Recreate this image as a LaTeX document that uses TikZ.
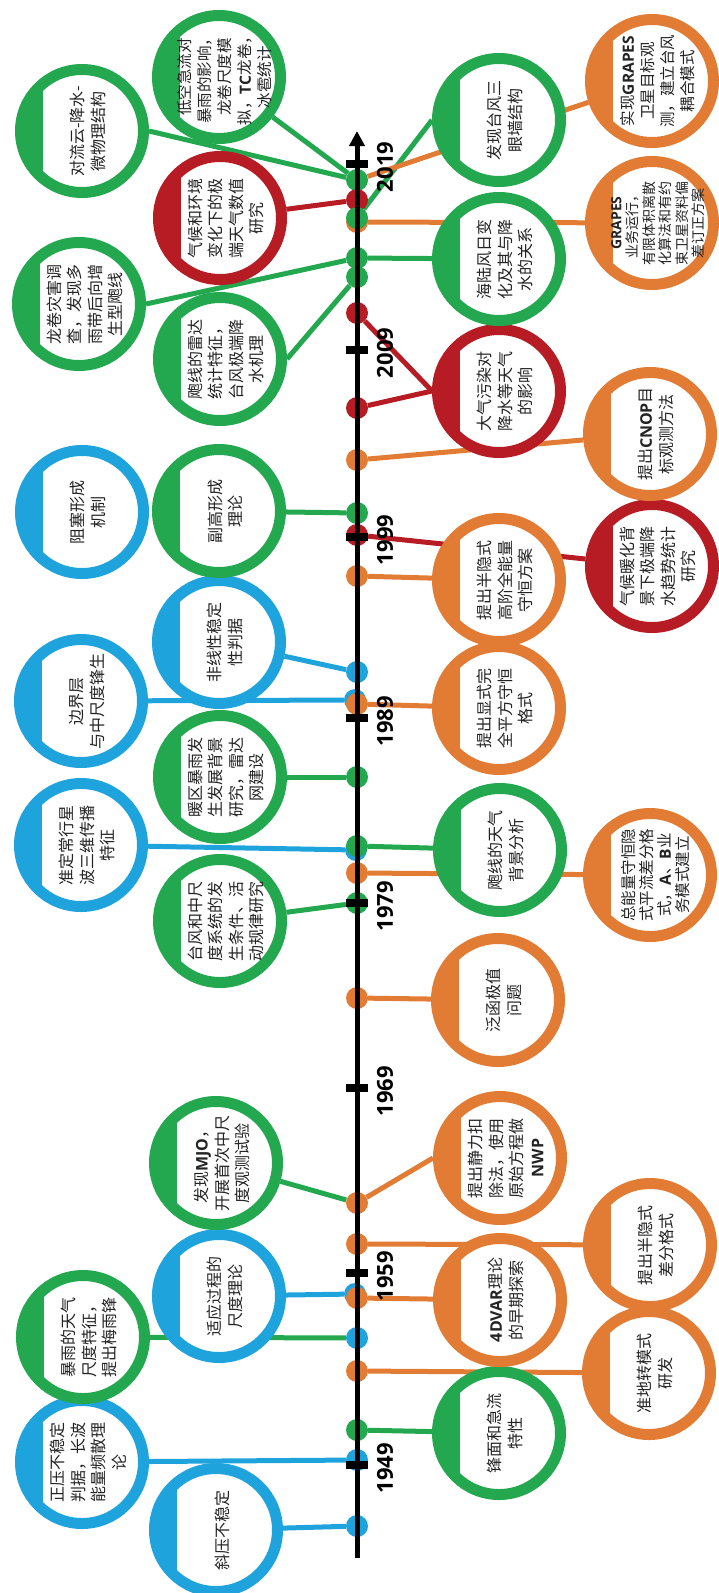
\documentclass[tikz,border=0pt]{standalone}
\usepackage{fontspec}
\setmainfont{Noto Sans CJK SC}
\newfontfamily\latb{Open Sans}
\usetikzlibrary{arrows.meta}
\definecolor{cb}{RGB}{31,163,221}
\definecolor{cg}{RGB}{35,168,80}
\definecolor{co}{RGB}{226,123,51}
\definecolor{cr}{RGB}{183,28,37}
\definecolor{ct}{RGB}{35,35,35}
\pgfdeclarelayer{bg}
\pgfsetlayers{bg,main}
\newcommand\LatB[1]{{\latb\bfseries #1}}
\tikzset{
 bubble/.style={circle, draw=#1, fill=white, line width=11pt, minimum size=123pt, inner sep=0pt,
   path picture={\fill[#1] (path picture bounding box.south west) rectangle ([xshift=22.5pt]path picture bounding box.north west);}},
 btext/.style={rotate=90, align=center, inner sep=0pt, text=ct, font=\fontsize{16pt}{20.5pt}\selectfont},
 tdot/.style={circle, fill=#1, minimum size=22pt, inner sep=0pt},
 conn/.style={draw=#1, line width=5pt},
 tickbar/.style={fill=black, minimum width=22pt, minimum height=8pt, inner sep=0pt},
 yearlab/.style={rotate=90, font=\latb\bfseries\fontsize{22pt}{22pt}\selectfont, inner sep=0pt},
}
\newcommand\Bub[6][]{\node[bubble=#3] (#2) at (#4,#5) {};
  \node[btext,#1] (#2t) at ([xshift=6pt]#2.center) {#6};}
\begin{document}
\begin{tikzpicture}[x=1pt,y=-1pt]
\useasboundingbox (0,0) rectangle (719,1593);
% dots
\node[tdot=cg] (d180) at (357,180) {};
\node[tdot=cr] (d200) at (357,200) {};
\node[tdot=co] (d222) at (357,222) {};
\node[tdot=cg] (d218) at (357,218) {};
\node[tdot=cg] (d258) at (357,258) {};
\node[tdot=cg] (d277) at (357,277) {};
\node[tdot=cr] (d313) at (357,313) {};
\node[tdot=cr] (d408) at (357,408) {};
\node[tdot=co] (d460) at (357,460) {};
\node[tdot=cg] (d513) at (357,513) {};
\node[tdot=cr] (d535) at (357,535) {};
\node[tdot=co] (d576) at (357,576) {};
\node[tdot=cb] (d672) at (357,672) {};
\node[tdot=cb] (d700) at (355,700) {};
\node[tdot=co] (d704) at (357,704) {};
\node[tdot=cg] (d777) at (357,777) {};
\node[tdot=cb] (d850) at (356,850) {};
\node[tdot=cg] (d846) at (357,846) {};
\node[tdot=co] (d873) at (357,873) {};
\node[tdot=cg] (d903) at (357,903) {};
\node[tdot=co] (d998) at (357,998) {};
\node[tdot=co] (d1203) at (357,1203) {};
\node[tdot=co] (d1244) at (357,1244) {};
\node[tdot=cb] (d1294) at (355,1294) {};
\node[tdot=co] (d1298) at (357,1298) {};
\node[tdot=cb] (d1338) at (357,1338) {};
\node[tdot=co] (d1371) at (357,1371) {};
\node[tdot=cg] (d1430) at (357,1430) {};
\node[tdot=cb] (d1460) at (357,1460) {};
\node[tdot=cb] (d1526) at (357,1526) {};
% axis
\coordinate (abot) at (357,1558);
\coordinate (atop) at (357,131);
\draw[line width=5pt, -{Triangle[length=15pt,width=15pt]}] (abot) -- (atop);
% ticks and years
\foreach \yr/\ty in {1949/1465,1959/1273,1969/1088,1979/903,1989/718,1999/537,2009/350,2019/164}{
  \node[tickbar] (k\yr) at (357,\ty) {};
  \node[yearlab] (y\yr) at (385,\ty+3) {\yr};
}
% left bubbles
\Bub{c1}{cb}{216}{1530}{斜压不稳定}
\Bub{c2}{cb}{82}{1462}{正压不稳定\\判据，长波\\能量频散理\\论}
\Bub{c3}{cg}{83}{1337}{暴雨的天气\\尺度特征，\\提出梅雨锋}
\Bub{c4}{cb}{219}{1296}{适应过程的\\尺度理论}
\Bub{c5}{cg}{216}{1163}{发现\LatB{MJO}，\\开展首次中尺\\度观测试验}
\Bub{c6}{cg}{220}{921}{台风和中尺\\度系统的发\\生条件、活\\动规律研究}
\Bub{c7}{cb}{81}{845}{准定常行星\\波三维传播\\特征}
\Bub{c8}{cg}{220}{777}{暖区暴雨发\\生发展背景\\研究，雷达\\网建设}
\Bub{c9}{cb}{81}{701}{边界层\\与中尺度锋生}
\Bub{c10}{cb}{219}{642}{非线性稳定\\性判据}
\Bub{c12}{cb}{82}{512}{阻塞形成\\机制}
\Bub{c11}{cg}{219}{511}{副高形成\\理论}
\Bub{c13}{cg}{220}{359}{飑线的雷达\\统计特征，\\台风极端降\\水机理}
\Bub{c14}{cg}{79}{304}{龙卷灾害调\\查，发现多\\雨带后向增\\生型飑线}
\Bub{c15}{cr}{220}{218}{气候和环境\\变化下的极\\端天气数值\\研究}
\Bub{c16}{cg}{82}{131}{对流云-降水-\\微物理结构}
\Bub[font=\fontsize{15.5pt}{20pt}\selectfont]{c17}{cg}{219}{77}{低空急流对\\暴雨的影响，\\龙卷尺度模\\拟，\LatB{TC}龙卷，\\冰雹统计}
% right bubbles
\Bub{r1}{cg}{499}{1433}{锋面和急流\\特性}
\Bub{r2}{co}{649}{1373}{准地转模式\\研发}
\Bub{r3}{co}{500}{1300}{\LatB{4DVAR}理论\\的早期探索}
\Bub{r4}{co}{650}{1245}{提出半隐式\\差分格式}
\Bub{r5}{co}{500}{1158}{提出静力扣\\除法，使用\\原始方程做\\\LatB{NWP}}
\Bub{r6}{co}{498}{1000}{泛函极值\\问题}
\Bub{r7}{cg}{500}{850}{飑线的天气\\背景分析}
\Bub[font=\fontsize{15.5pt}{18pt}\selectfont]{r8}{co}{650}{875}{总能量守恒隐\\式平流差分格\\式，\LatB{A}、\LatB{B}业\\务模式建立}
\Bub{r9}{co}{499}{708}{提出显式完\\全平方守恒\\格式}
\Bub{r10}{co}{499}{580}{提出半隐式\\高阶全能量\\守恒方案}
\Bub{r11}{cr}{652}{566}{气候暖化背\\景下极端降\\水趋势统计\\研究}
\Bub{r12}{co}{650}{434}{提出\LatB{CNOP}目\\标观测方法}
\Bub{r13}{cr}{499}{391}{大气污染对\\降水等天气\\的影响}
\Bub{r14}{cg}{499}{259}{海陆风日变\\化及其与降\\水的关系}
\Bub{r15}{cg}{499}{120}{发现台风三\\眼墙结构}
\Bub[font=\fontsize{14pt}{16.5pt}\selectfont]{r16}{co}{652}{223}{\LatB{GRAPES}\\业务运行，\\有限体积离散\\化算法和有约\\束卫星资料偏\\差订正方案}
\Bub[font=\fontsize{15.5pt}{20pt}\selectfont]{r17}{co}{652}{81}{实现\LatB{GRAPES}\\卫星目标观\\测，建立台风\\耦合模式}
% connectors
\begin{pgfonlayer}{bg}
\draw[conn=cb] (c1) -- (d1526);
\draw[conn=cb] (c2) -- (d1460);
\draw[conn=cg] (c3) -- (d1338);
\draw[conn=cb] (c4) -- (d1294);
\draw[conn=cg] (c5) -- (d1203);
\draw[conn=cg] (c6) -- (d903);
\draw[conn=cb] (c7) -- (d850);
\draw[conn=cg] (c8) -- (d777);
\draw[conn=cb] (c9) -- (d700);
\draw[conn=cb] (c10) -- (d672);
\draw[conn=cg] (c11) -- (d513);
\draw[conn=cg] (c13.east) -- (d277);
\draw[conn=cg] (c14.east) -- (d258);
\draw[conn=cr] (c15) -- (d200);
\draw[conn=cg] (c16.east) -- (d180);
\draw[conn=cg] (c17) -- (d180);
\draw[conn=cg] (r1) -- (d1430);
\draw[conn=co] (r2) -- (d1371);
\draw[conn=co] (r3) -- (d1298);
\draw[conn=co] (r4) -- (d1244);
\draw[conn=co] (r5.west) -- (d1203);
\draw[conn=co] (r6) -- (d998);
\draw[conn=cg] (r7) -- (d846);
\draw[conn=co] (r8) -- (d873);
\draw[conn=co] (r9) -- (d704);
\draw[conn=co] (r10) -- (d576);
\draw[conn=cr] (r11) -- (d535);
\draw[conn=co] (r12) -- (d460);
\draw[conn=cr] (r13.west) -- (d313);
\draw[conn=cr] (r13.west) -- (d408);
\draw[conn=cg] (r14) -- (d258);
\draw[conn=cg] (r15.west) -- (d218);
\draw[conn=co] (r16) -- (d222);
\draw[conn=co] (r17) -- (d180);
\end{pgfonlayer}
\end{tikzpicture}
\end{document}
